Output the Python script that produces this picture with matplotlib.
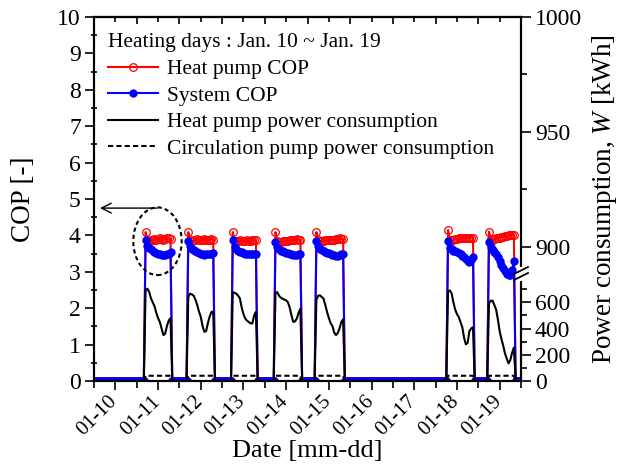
import numpy as np
import matplotlib
matplotlib.use('Agg')
import matplotlib.pyplot as plt
from matplotlib.patches import Ellipse
from matplotlib.lines import Line2D
import matplotlib.transforms as mtrans

plt.rcParams['font.family'] = ['Liberation Serif', 'DejaVu Serif']
plt.rcParams['mathtext.fontset'] = 'custom'
plt.rcParams['mathtext.rm'] = 'Liberation Serif'
plt.rcParams['mathtext.it'] = 'Liberation Serif:italic'

# ---------------- data (hourly, Jan 10 00:00 .. Jan 19 23:00) ----------------
n_hours = 240
block_start_hour = [29, 53, 78, 102, 125, 199, 222]

heat_pump_cop = [
    [4.09, 3.86, 3.84, 3.86, 3.88, 3.90, 3.88, 3.90, 3.92, 3.90, 3.88, 3.90, 3.92, 3.92, 3.90],
    [4.09, 3.86, 3.84, 3.86, 3.88, 3.90, 3.88, 3.86, 3.88, 3.90, 3.88, 3.86, 3.88, 3.90, 3.88],
    [4.09, 3.85, 3.84, 3.84, 3.86, 3.85, 3.85, 3.84, 3.86, 3.85, 3.85, 3.86, 3.86, 3.86],
    [4.09, 3.84, 3.82, 3.82, 3.84, 3.84, 3.84, 3.84, 3.86, 3.86, 3.88, 3.88, 3.90, 3.88, 3.88],
    [4.09, 3.86, 3.84, 3.84, 3.85, 3.86, 3.86, 3.86, 3.88, 3.88, 3.88, 3.90, 3.90, 3.92, 3.90, 3.90],
    [4.15, 3.88, 3.86, 3.88, 3.90, 3.90, 3.92, 3.92, 3.94, 3.92, 3.92, 3.94, 3.94, 3.94, 3.94],
    [4.10, 3.90, 3.88, 3.90, 3.92, 3.92, 3.94, 3.95, 3.96, 3.98, 3.98, 4.00, 4.00, 4.02, 4.00],
]
system_cop = [
    [3.87, 3.72, 3.66, 3.62, 3.58, 3.55, 3.53, 3.50, 3.48, 3.46, 3.45, 3.45, 3.48, 3.50, 3.55],
    [3.84, 3.70, 3.64, 3.60, 3.57, 3.55, 3.52, 3.50, 3.48, 3.47, 3.48, 3.48, 3.50, 3.50, 3.52],
    [3.86, 3.68, 3.62, 3.58, 3.55, 3.54, 3.52, 3.50, 3.50, 3.48, 3.48, 3.49, 3.50, 3.50],
    [3.83, 3.68, 3.62, 3.58, 3.56, 3.55, 3.53, 3.52, 3.50, 3.48, 3.47, 3.46, 3.47, 3.48, 3.50],
    [3.84, 3.70, 3.63, 3.60, 3.57, 3.55, 3.53, 3.51, 3.49, 3.47, 3.45, 3.44, 3.44, 3.46, 3.48, 3.50],
    [3.85, 3.66, 3.62, 3.58, 3.56, 3.54, 3.52, 3.48, 3.44, 3.40, 3.35, 3.30, 3.28, 3.32, 3.42],
    [3.83, 3.68, 3.60, 3.55, 3.48, 3.40, 3.30, 3.20, 3.10, 3.02, 2.94, 2.90, 2.92, 3.05, 3.30],
]
heat_pump_power = [
    [690, 704, 680, 630, 600, 570, 520, 480, 450, 400, 350, 360, 420, 460, 480],
    [640, 666, 660, 650, 620, 580, 530, 490, 420, 375, 380, 440, 490, 526, 530],
    [678, 672, 666, 650, 630, 560, 510, 476, 460, 450, 440, 438, 500, 526],
    [670, 678, 650, 635, 628, 620, 615, 600, 560, 500, 450, 455, 476, 520, 550],
    [620, 650, 653, 640, 628, 580, 526, 480, 440, 420, 370, 350, 365, 400, 450, 470],
    [680, 691, 668, 600, 545, 510, 488, 450, 410, 330, 280, 290, 380, 400, 410],
    [590, 612, 612, 580, 545, 470, 380, 320, 270, 210, 170, 134, 160, 215, 255],
]
circ_pump_power = [40, 40, 40, 40, 40, 40, 40]

date_labels = ['01-10', '01-11', '01-12', '01-13', '01-14',
               '01-15', '01-16', '01-17', '01-18', '01-19']
right_major = [0, 200, 400, 600, 900, 950, 1000]
right_minor = [100, 300, 500, 700, 925, 975]
legend_labels = ['Heat pump COP', 'System COP',
                 'Heat pump power consumption',
                 'Circulation pump power consumption']

# ---------------- assemble series ----------------
hours = np.arange(n_hours)
t = hours / 24.0
hp = np.zeros(n_hours)
sc = np.zeros(n_hours)
pw = np.zeros(n_hours)
cp = np.zeros(n_hours)
for s, a, b, c, d in zip(block_start_hour, heat_pump_cop, system_cop,
                         heat_pump_power, circ_pump_power):
    n = len(a)
    hp[s:s + n] = a
    sc[s:s + n] = b
    pw[s:s + n] = c
    cp[s:s + n] = d

# broken right axis: piecewise-linear scale
A_LOW = 0.003604
B_UP = 0.0631
C0 = 3.69
W_KNEE = (C0 - 900 * B_UP) / (A_LOW - B_UP)


def fwd(w):
    w = np.asarray(w, dtype=float)
    return np.where(w <= W_KNEE, A_LOW * w, C0 + B_UP * (w - 900))


def inv(y):
    y = np.asarray(y, dtype=float)
    return np.where(y <= A_LOW * W_KNEE, y / A_LOW, 900 + (y - C0) / B_UP)


# ---------------- figure ----------------
fig = plt.figure(figsize=(6.18, 4.65), dpi=100)
ax = fig.add_axes([94 / 618, 84 / 465, 427 / 618, 364 / 465])

ax.plot(t, hp, color='red', lw=1.5, marker='o', ms=5.5, mfc='none',
        mec='red', mew=0.9, zorder=2)
ax.plot(t, sc, color='blue', lw=1.5, marker='o', ms=5, mfc='blue',
        mec='blue', zorder=3)
ax.set_xlim(0, 10)
ax.set_ylim(0, 10)

ax2 = ax.twinx()
ax2.set_yscale('function', functions=(fwd, inv))
ax2.plot(t, pw, color='black', lw=1.5)
ax2.plot(t, cp, color='black', lw=1.5, ls=(0, (2.5, 1.5)))
ax2.set_ylim(0, 1000)

# ticks
ax.set_xticks(np.arange(10) + 0.5)
ax.set_xticklabels(date_labels, rotation=45, ha='right', va='top', fontsize=15)
ax.set_xticks(np.arange(11), minor=True)
ax.tick_params(axis='x', which='major', direction='out', length=6.5, width=1.2, pad=1.5)
ax.tick_params(axis='x', which='minor', direction='out', length=4.8, width=1.2)
off = mtrans.ScaledTranslation(6 / 100, 0, fig.dpi_scale_trans)
for lab in ax.get_xticklabels():
    lab.set_transform(lab.get_transform() + off)

sec = ax.secondary_xaxis('top')
sec.set_xticks(np.arange(11))
sec.set_xticks(np.arange(10) + 0.5, minor=True)
sec.set_xticklabels([])
sec.tick_params(which='major', direction='in', length=5, width=1.2)
sec.tick_params(which='minor', direction='in', length=3.5, width=1.2)
sec.spines['top'].set_linewidth(1.5)

ax.set_yticks(np.arange(11))
ax.set_yticks(np.arange(0.5, 10, 1), minor=True)
ax.tick_params(axis='y', which='major', direction='out', length=6.5, width=1.2,
               labelsize=17, pad=3)
ax.tick_params(axis='y', which='minor', direction='inout', length=5, width=1.2)

ax2.set_yticks(right_major)
ax2.set_yticklabels([str(v) for v in right_major])
ax2.set_yticks(right_minor, minor=True)
ax2.set_yticklabels([], minor=True)
ax2.tick_params(axis='y', which='major', direction='out', length=7, width=1.2,
                labelsize=17, pad=3)
ax2.tick_params(axis='y', which='minor', direction='out', length=4.5, width=1.2)

for a_ in (ax, ax2):
    for sp in a_.spines.values():
        sp.set_linewidth(1.5)

ax.set_xlabel('Date [mm-dd]', fontsize=19, labelpad=0)
ax.set_ylabel('COP [-]', fontsize=19.5, labelpad=15)
ax2.set_ylabel('Power consumption, $W$ [kWh]', fontsize=19.5, labelpad=6)

# legend
handles = [
    Line2D([], [], color='red', lw=1.5, marker='o', ms=5.5, mfc='none', mec='red', mew=0.9),
    Line2D([], [], color='blue', lw=1.5, marker='o', ms=5, mfc='blue', mec='blue'),
    Line2D([], [], color='black', lw=1.5),
    Line2D([], [], color='black', lw=1.5, ls=(0, (2.5, 1.5))),
]
ax.text(14 / 427, (381 - 47) / 364, 'Heating days : Jan. 10 ~ Jan. 19',
        transform=ax.transAxes, fontsize=15.5, va='baseline', ha='left')
ax.legend(handles, legend_labels, loc='upper left',
          bbox_to_anchor=(14 / 427, (381 - 59) / 364), frameon=False,
          fontsize=15.5, handlelength=2.3, handletextpad=0.45,
          labelspacing=0.3, borderpad=0, borderaxespad=0, numpoints=1)

# annotation ellipse and arrow
ax.add_patch(Ellipse((1.487, 3.84), 1.133, 1.86, fill=False, ec='black',
                     lw=1.5, ls=(0, (2, 1.5)), zorder=5))
ax.annotate('', xy=(0.14, 4.75), xytext=(1.48, 4.75),
            arrowprops=dict(arrowstyle='->,head_length=0.7,head_width=0.35',
                            lw=1.0, color='black', shrinkA=0, shrinkB=0,
                            mutation_scale=10))

# axis break marks on the right spine
def fx(px):
    return (px - 94) / 427


def fy(py):
    return (381 - py) / 364


ax2.plot([1, 1], [fy(279), fy(269)], transform=ax2.transAxes, color='white',
         lw=3, clip_on=False, zorder=10)
for dy in (0, 6):
    ax2.plot([fx(514), fx(528)], [fy(277 + dy - 3), fy(270 + dy - 3)],
             transform=ax2.transAxes, color='black', lw=1.3, clip_on=False, zorder=11)

fig.savefig('out.png', dpi=100)
